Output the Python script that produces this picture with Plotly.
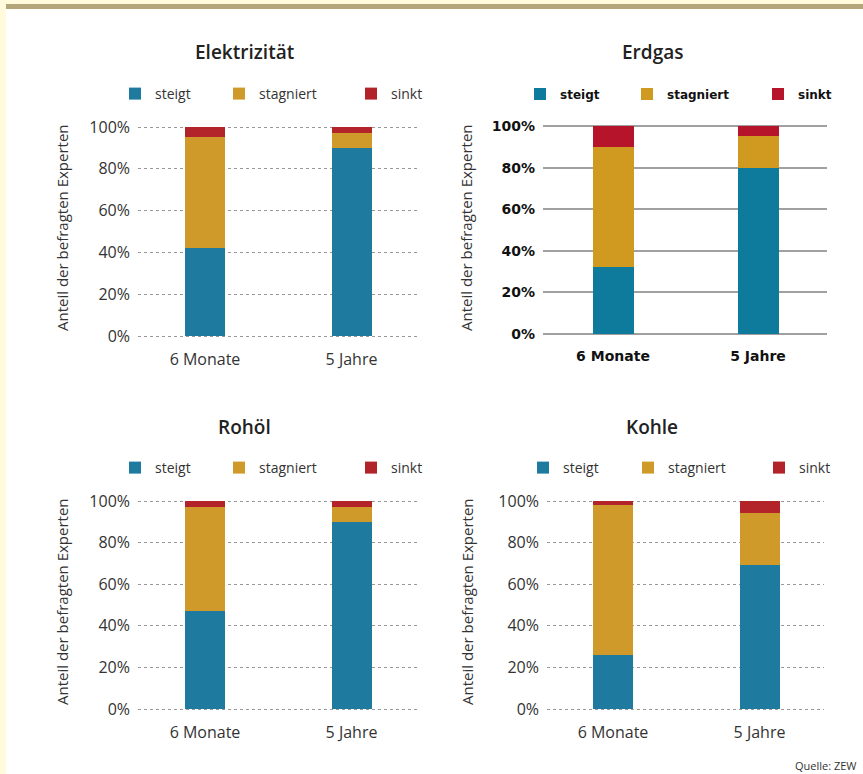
import plotly.graph_objects as go

W, H = 863, 774

categories = ["6 Monate", "5 Jahre"]
series_names = ["steigt", "stagniert", "sinkt"]

elek_steigt = [42, 90]
elek_stagniert = [53, 7]
elek_sinkt = [5, 3]

erdgas_steigt = [32, 80]
erdgas_stagniert = [58, 15]
erdgas_sinkt = [10, 5]

rohoel_steigt = [47, 90]
rohoel_stagniert = [50, 7]
rohoel_sinkt = [3, 3]

kohle_steigt = [26, 69]
kohle_stagniert = [72, 25]
kohle_sinkt = [2, 6]

y_tick_vals = [0, 20, 40, 60, 80, 100]
y_tick_text = ["0%", "20%", "40%", "60%", "80%", "100%"]

titles = ["Elektrizität", "Erdgas", "Rohöl", "Kohle"]
y_title = "Anteil der befragten Experten"
source = "Quelle: ZEW"


def px(x):
    return x / W


def py(y):
    return 1 - y / H


colors_std = ["#1f7aa0", "#cf9a2a", "#b3242a"]
colors_gas = ["#0e7a9c", "#d09a20", "#b5142b"]

FONT = "Open Sans"
BOLD = "DejaVu Sans"

panels = [
    dict(data=[elek_steigt, elek_stagniert, elek_sinkt], title=titles[0],
         xdom=(138, 418), ydom=(336, 127), centers=(205, 351.5), bw=40,
         colors=colors_std, gas=False, tx=245, ty=52, leg=(130, 234, 366), legy=94, ytx=62, ycy=228),
    dict(data=[erdgas_steigt, erdgas_stagniert, erdgas_sinkt], title=titles[1],
         xdom=(543, 827), ydom=(334, 126), centers=(613, 758), bw=41,
         colors=colors_gas, gas=True, tx=652, ty=52, leg=(535, 642, 773), legy=94, ytx=466, ycy=228),
    dict(data=[rohoel_steigt, rohoel_stagniert, rohoel_sinkt], title=titles[2],
         xdom=(138, 418), ydom=(709, 501), centers=(205, 351.5), bw=40,
         colors=colors_std, gas=False, tx=245, ty=427, leg=(130, 234, 366), legy=468, ytx=62, ycy=602),
    dict(data=[kohle_steigt, kohle_stagniert, kohle_sinkt], title=titles[3],
         xdom=(547, 824), ydom=(709, 501), centers=(613, 759.5), bw=40,
         colors=colors_std, gas=False, tx=652, ty=427, leg=(538, 643, 774), legy=468, ytx=467, ycy=602),
]

fig = go.Figure()
layout = {}
annotations = []
legend_idx = 0
PAD = 3  # px of padding so the 0% and 100% grid lines are drawn

for i, p in enumerate(panels):
    n = i + 1
    xa = "x" if n == 1 else f"x{n}"
    ya = "y" if n == 1 else f"y{n}"
    unit = p["centers"][1] - p["centers"][0]
    x0, x1 = p["xdom"]
    xr = [-(p["centers"][0] - x0) / unit, 1 + (x1 - p["centers"][1]) / unit]
    width = p["bw"] / unit
    y0px, y100px = p["ydom"]
    scale = (y0px - y100px) / 100.0
    yr = [-PAD / scale, 100 + PAD / scale]
    for s, name in enumerate(series_names):
        legend_idx += 1
        lname = "legend" if legend_idx == 1 else f"legend{legend_idx}"
        fig.add_trace(go.Bar(
            x=categories, y=p["data"][s], name=name, xaxis=xa, yaxis=ya,
            marker=dict(color=p["colors"][s], line=dict(width=0)),
            width=width, legend=lname, showlegend=True, hoverinfo="skip",
        ))
        lf = dict(family=BOLD, size=12, color="#111", weight="bold") if p["gas"] else dict(family=FONT, size=14, color="#333")
        layout[lname] = dict(
            x=px(p["leg"][s] - 15), y=py(p["legy"]), xanchor="left", yanchor="middle",
            orientation="h", bgcolor="rgba(0,0,0,0)", borderwidth=0, font=lf,
            itemclick=False, itemdoubleclick=False,
        )
    xkey = "xaxis" if n == 1 else f"xaxis{n}"
    ykey = "yaxis" if n == 1 else f"yaxis{n}"
    if p["gas"]:
        tickfont = dict(family=BOLD, size=14, color="#111", weight="bold")
        grid = dict(showgrid=True, gridcolor="#a0a0a0", gridwidth=2, griddash="solid")
    else:
        tickfont = dict(family=FONT, size=16, color="#333")
        grid = dict(showgrid=True, gridcolor="#999999", gridwidth=1, griddash="dot")
    layout[xkey] = dict(domain=[px(x0), px(x1)], anchor=ya, range=xr, type="category",
                        showgrid=False, zeroline=False, showline=False, ticks="",
                        ticklabelstandoff=6 + PAD, automargin=False,
                        tickfont=tickfont, fixedrange=True)
    layout[ykey] = dict(domain=[py(y0px + PAD), py(y100px - PAD)], anchor=xa, range=yr,
                        tickvals=y_tick_vals, ticktext=y_tick_text, zeroline=False, showline=False,
                        ticks="", ticklabelstandoff=7, automargin=False,
                        tickfont=tickfont, fixedrange=True, **grid)
    annotations.append(dict(text=p["title"], x=px(p["tx"]), y=py(p["ty"]), xref="paper", yref="paper",
                            xanchor="center", yanchor="middle", showarrow=False,
                            font=dict(family=FONT, size=19, color="#222", weight=600)))
    annotations.append(dict(text=y_title, x=px(p["ytx"]), y=py(p["ycy"]), xref="paper", yref="paper",
                            xanchor="center", yanchor="middle", showarrow=False, textangle=-90,
                            font=dict(family=FONT, size=15, color="#333")))

annotations.append(dict(text=source, x=px(859), y=py(765), xref="paper", yref="paper",
                        xanchor="right", yanchor="middle", showarrow=False,
                        font=dict(family=FONT, size=11, color="#333")))

shapes = [
    dict(type="rect", xref="paper", yref="paper", x0=0, x1=px(6), y0=0, y1=1,
         fillcolor="#fffbdc", line=dict(width=0), layer="below"),
    dict(type="rect", xref="paper", yref="paper", x0=0, x1=1, y0=py(4), y1=1,
         fillcolor="#fffbdc", line=dict(width=0), layer="below"),
    dict(type="rect", xref="paper", yref="paper", x0=px(6), x1=1, y0=py(9), y1=py(4),
         fillcolor="#b5a57a", line=dict(width=0), layer="below"),
]

fig.update_layout(
    width=W, height=H, margin=dict(l=0, r=0, t=0, b=0, autoexpand=False),
    paper_bgcolor="white", plot_bgcolor="rgba(0,0,0,0)",
    barmode="stack", bargap=0, annotations=annotations, shapes=shapes,
    hovermode=False, **layout,
)

fig.write_html("out.html", config={"displayModeBar": False})
